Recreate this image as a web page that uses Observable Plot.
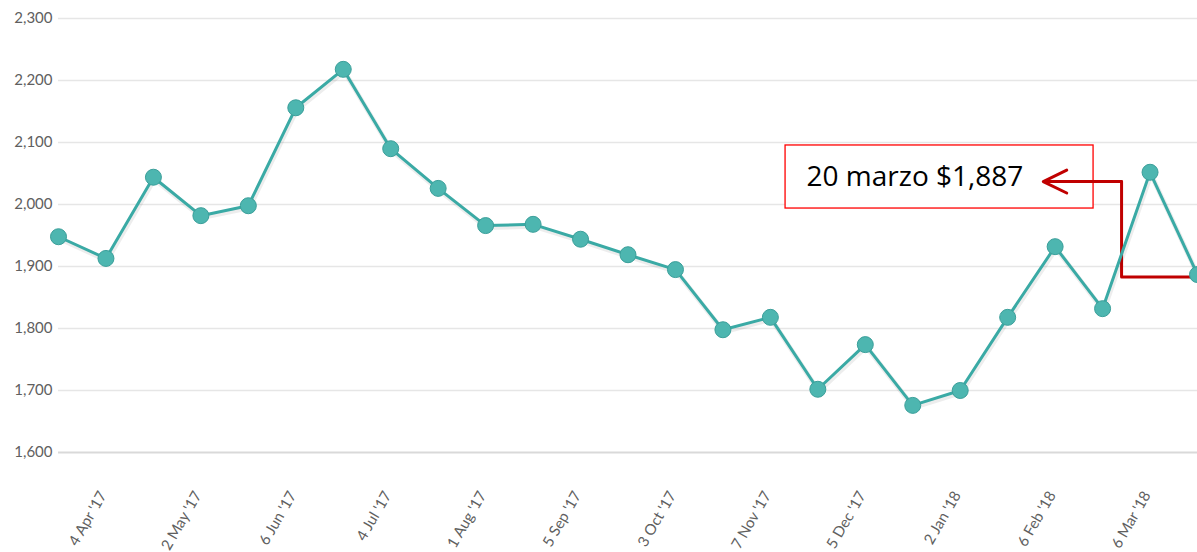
<!DOCTYPE html>
<html>
<head>
<meta charset="utf-8">
<script src="https://cdn.jsdelivr.net/npm/d3@7"></script>
<script src="https://cdn.jsdelivr.net/npm/@observablehq/plot@0.6"></script>
<style>
  html, body { margin: 0; padding: 0; background: #fff; }
  #chart { width: 1197px; height: 552px; overflow: hidden; }
</style>
</head>
<body>
<div id="chart"></div>
<script>
// Biweekly dates (category labels) and values
const dates = [
  "21 Mar '17", "4 Apr '17", "18 Apr '17", "2 May '17", "23 May '17", "6 Jun '17",
  "20 Jun '17", "4 Jul '17", "18 Jul '17", "1 Aug '17", "15 Aug '17", "5 Sep '17",
  "19 Sep '17", "3 Oct '17", "17 Oct '17", "7 Nov '17", "21 Nov '17", "5 Dec '17",
  "19 Dec '17", "2 Jan '18", "16 Jan '18", "6 Feb '18", "20 Feb '18", "6 Mar '18",
  "20 Mar '18"
];
const values = [
  1948, 1913, 2044, 1982, 1998, 2156, 2218, 2090, 2026, 1966, 1968, 1944,
  1919, 1895, 1798, 1818, 1702, 1774, 1676, 1700, 1818, 1932, 1832, 2052,
  1887
];
const tickLabels = ["4 Apr '17", "2 May '17", "6 Jun '17", "4 Jul '17", "1 Aug '17", "5 Sep '17",
  "3 Oct '17", "7 Nov '17", "5 Dec '17", "2 Jan '18", "6 Feb '18", "6 Mar '18"];
const yTicks = [1600, 1700, 1800, 1900, 2000, 2100, 2200, 2300];

// Callout (anchored in data units)
const calloutText = "20 marzo $1,887";
const calloutBox = [{x1: 15.32, x2: 21.81, y1: 1993.5, y2: 2095.2}];
const calloutElbowX = 22.4;
const calloutTipX = 20.75;
const calloutY = 2037;
const calloutFromY = 1883;

const data = values.map((v, i) => ({i, v, date: dates[i]}));
const tickIdx = tickLabels.map(l => dates.indexOf(l));
const last = data[data.length - 1];

const chart = Plot.plot({
  width: 1197,
  height: 552,
  marginLeft: 58,
  marginRight: 0,
  marginTop: 18,
  marginBottom: 100,
  style: {fontFamily: "Lato, sans-serif", background: "#fff", overflow: "visible"},
  x: {type: "linear", domain: [0, dates.length - 1]},
  y: {domain: [1600, 2300]},
  marks: [
    Plot.ruleY(yTicks.slice(1), {stroke: "#e6e6e6", strokeWidth: 1.5}),
    Plot.ruleY([1600], {stroke: "#d9d9d9", strokeWidth: 2}),
    Plot.axisY(yTicks, {tickSize: 0, tickPadding: 6, tickFormat: d3.format(","), fontSize: 15, fill: "#606060", label: null}),
    Plot.axisX(tickIdx, {tickFormat: i => dates[i], tickRotate: -60, tickSize: 0, tickPadding: 40, dx: -3, fontSize: 15, fill: "#606060", label: null}),
    // callout box + text
    Plot.rect(calloutBox, {x1: "x1", x2: "x2", y1: "y1", y2: "y2", fill: "#fff", stroke: "#ff0000", strokeWidth: 1.3}),
    Plot.text([calloutText], {x: calloutBox[0].x1, y: (calloutBox[0].y1 + calloutBox[0].y2) / 2, text: d => d, textAnchor: "start", dx: 21, fontSize: 28, fontFamily: "'Open Sans', sans-serif", fill: "#000"}),
    // connector
    Plot.line([[last.i, calloutFromY], [calloutElbowX, calloutFromY], [calloutElbowX, calloutY]], {stroke: "#c00000", strokeWidth: 3}),
    Plot.arrow([{x1: calloutElbowX, x2: calloutTipX, y: calloutY}], {x1: "x1", x2: "x2", y1: "y", y2: "y", stroke: "#c00000", strokeWidth: 3, headLength: 18, headAngle: 52, insetEnd: 0}),
    // shadow
    Plot.line(data, {x: "i", y: "v", stroke: "#000", strokeOpacity: 0.07, strokeWidth: 5, dx: 1, dy: 2}),
    Plot.line(data, {x: "i", y: "v", stroke: "#3aaaa5", strokeWidth: 3}),
    Plot.dot(data, {x: "i", y: "v", r: 8, fill: "#4db6b0", stroke: "#3b9f9a", strokeWidth: 1})
  ]
});
document.getElementById("chart").appendChild(chart);
</script>
</body>
</html>
